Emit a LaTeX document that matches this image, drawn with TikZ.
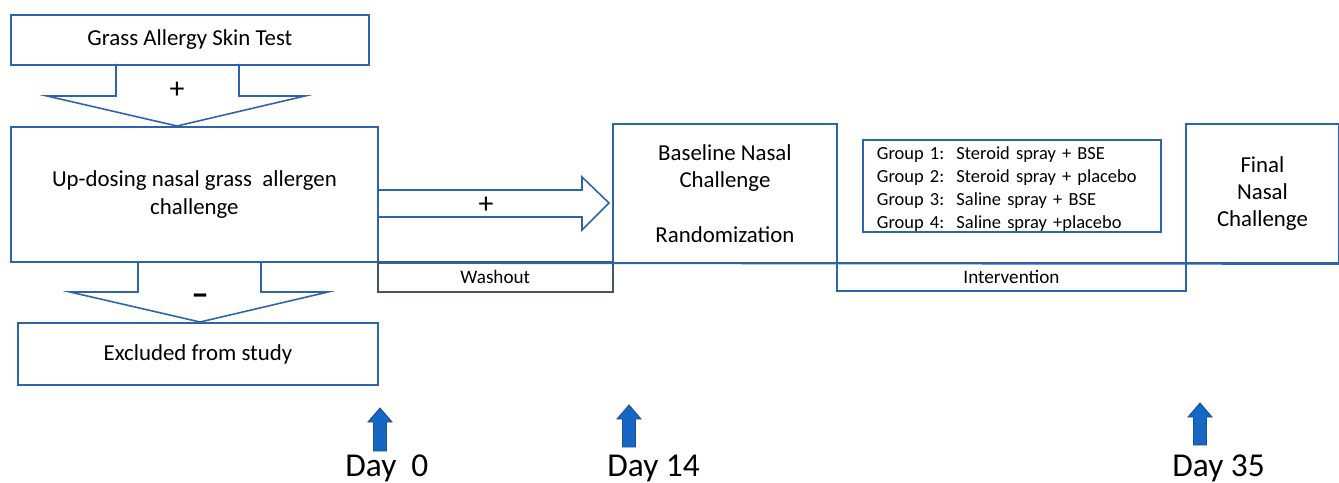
\documentclass[tikz,border=0pt]{standalone}
\usepackage{fontspec}
\setmainfont{Carlito}
\usepackage{tikz}
\usetikzlibrary{positioning, calc}
\usepackage{xcolor}
\definecolor{boxblue}{RGB}{46,100,170}
\definecolor{washgray}{RGB}{68,84,106}
\definecolor{dayblue}{RGB}{22,102,196}
\definecolor{dayedge}{RGB}{34,78,148}
\tikzset{block/.style={draw=boxblue, line width=1.1pt, inner sep=0pt, anchor=north west, align=center,
	font=\fontsize{13}{15.6}\selectfont},
	line/.style={draw=boxblue, line width=1.1pt}
}

\begin{document}
\begin{tikzpicture}[x=0.02cm, y=-0.02cm]
\tikzstyle{small} = [block, font=\fontsize{10.9}{13}\selectfont]
\tikzstyle{bigarrow} = [draw=boxblue, line width=0.9pt, line join=miter]
\tikzstyle{sign} = [inner sep=0pt, font=\fontsize{17}{19}\selectfont]
\tikzstyle{dayarrow} = [draw=dayedge, fill=dayblue, line width=0.5pt]
\tikzstyle{day} = [anchor=base west, inner sep=0pt, font=\fontsize{19}{22}\selectfont]

\useasboundingbox (0,0) rectangle (1339,483);

\node [block, minimum width=7.16cm, minimum height=1cm] (skin) at (10,14) {Grass Allergy Skin Test};
\node [block, minimum width=7.34cm, minimum height=2.7cm] (updose) at (10,126) {Up-dosing nasal grass\ \ allergen\\challenge};
\node [block, minimum width=7.2cm, minimum height=1.24cm] (excl) at (17,322) {Excluded from study};

\node [small, draw=washgray, line width=0.9pt, minimum width=4.7cm, minimum height=0.6cm] (wash) at (377,261) {Washout};
\node [block, minimum width=4.48cm, minimum height=2.78cm] (base) at (612,123) {Baseline Nasal\\Challenge\\[15.6pt]Randomization};
\node [small, minimum width=6.98cm, minimum height=0.56cm] (interv) at (836,262) {Intervention};
\node [small, font=\fontsize{10.5}{13.2}\selectfont, align=left, line width=1pt, text width=5.4cm, inner xsep=0.28cm, minimum height=1.74cm] (groups) at (862,139)
{\rule{0pt}{11pt}Group 1:\ \ Steroid spray + BSE\\Group 2:\ \ Steroid spray + placebo\\Group 3:\ \ Saline spray + BSE\\Group 4:\ \ Saline spray +placebo};
\node [block, minimum width=3.06cm, minimum height=2.78cm] (final) at (1185,123) {Final\\Nasal\\Challenge};

%Lines
\draw [line] (updose.south east) -- (final.south east);

% block arrows
\draw [bigarrow] (116,64) -- (116,96) -- (47,96) -- (177,126) -- (305,96) -- (239,96) -- (239,64);
\node [sign] (plusA) at (177,90) {+};

\draw [bigarrow] (138,261) -- (138,292) -- (70,292) -- (200,322) -- (328,292) -- (261,292) -- (261,261);
\node [sign, font=\fontsize{20}{22}\selectfont\bfseries] (minus) at (200,300) {–};

\draw [bigarrow] (updose.east |- 0,190) -- (582,190) -- (582,177) -- (609,203) -- (582,230) -- (582,217) -- (updose.east |- 0,217);
\node [sign] (plusB) at (486,205) {+};

% days
\node [day] (day0) at (345,476) {Day\ \ 0};
\node [day] (day14) at (607,476) {Day 14};
\node [day] (day35) at (1172,476) {Day 35};

\draw [dayarrow] (373.5,451) -- (373.5,422) -- (368,422) -- (380,408) -- (392,422) -- (386.5,422) -- (386.5,451) -- cycle;
\draw [dayarrow] (622.5,447) -- (622.5,419) -- (617,419) -- (629,405) -- (641,419) -- (635.5,419) -- (635.5,447) -- cycle;
\draw [dayarrow] (1193.5,445) -- (1193.5,417) -- (1188,417) -- (1200,403) -- (1212,417) -- (1206.5,417) -- (1206.5,445) -- cycle;
\end{tikzpicture}
\end{document}
